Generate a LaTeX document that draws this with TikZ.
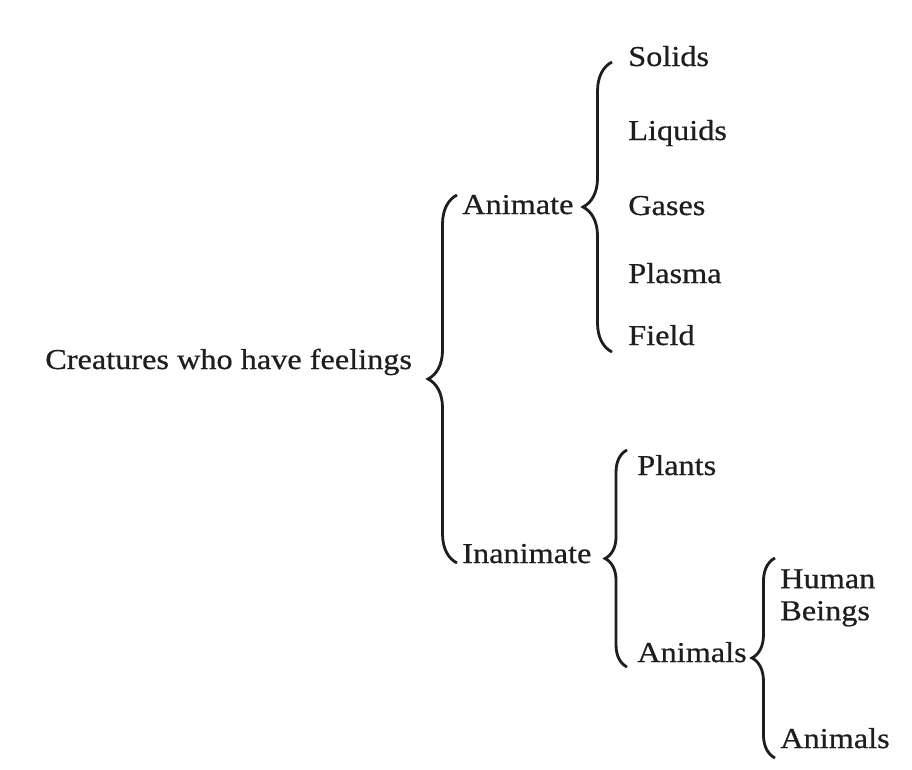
\documentclass[tikz,border=0pt]{standalone}
\usepackage{fontspec}
\setmainfont{Liberation Serif}[FakeStretch=1.12,FakeBold=0.6]
\usepackage{tikz}
\usetikzlibrary{positioning,calc}
\usetikzlibrary{decorations.pathreplacing}
\definecolor{InkBlack}{RGB}{30,30,30}
\tikzset{
	lbl/.style={inner sep=0pt,text=InkBlack,font=\fontsize{20.5pt}{22.8pt}\selectfont,align=left},
	curly/.style={draw=InkBlack,line width=2pt,decorate,decoration={brace,amplitude=#1}},
	curly/.default=20pt,
}

\begin{document}
\begin{tikzpicture}[x=0.025cm,y=-0.025cm]
					\fill[white] (0,0) rectangle (912,769);
					\useasboundingbox (0,0) rectangle (912,769);
					% root and first split
					\node[lbl,anchor=base west] (creatures) at (45,369) {Creatures who have feelings};
					\node[lbl,anchor=base west] (animate) at (462,214) {Animate};
					\node[lbl,anchor=base west] (inanimate) at (462,563) {Inanimate};
					% states of matter
					\node[lbl,anchor=base west] (solids) at (628,66) {Solids};
					\node[lbl,anchor=base west] (liquids) at (628,140) {Liquids};
					\node[lbl,anchor=base west] (gases) at (628,215) {Gases};
					\node[lbl,anchor=base west] (plasma) at (628,283) {Plasma};
					\node[lbl,anchor=base west] (field) at (628,345) {Field};
					% living things
					\node[lbl,anchor=base west] (plants) at (637,475) {Plants};
					\node[lbl,anchor=base west] (animals) at (637,662) {Animals};
					\node[lbl,anchor=north west] (human) at (780,569) {Human\\Beings};
					\node[lbl,anchor=base west] (animalsb) at (780,748) {Animals};
					% braces
					\draw[curly=20.6pt] ($(inanimate.base west)+(-5,0)$) -- ($(animate.base west)+(-5,-19)$);
					\draw[curly=20.6pt] ($(field.base west)+(-16,7)$) -- ($(solids.base west)+(-16,-4)$);
					\draw[curly=15.6pt] ($(animals.base west)+(-10,5)$) -- ($(plants.base west)+(-10,-25)$);
					\draw[curly=16.4pt] ($(animalsb.base west)+(-5,10)$) -- ($(human.north west)+(-5,-11)$);
				\end{tikzpicture}
\end{document}
